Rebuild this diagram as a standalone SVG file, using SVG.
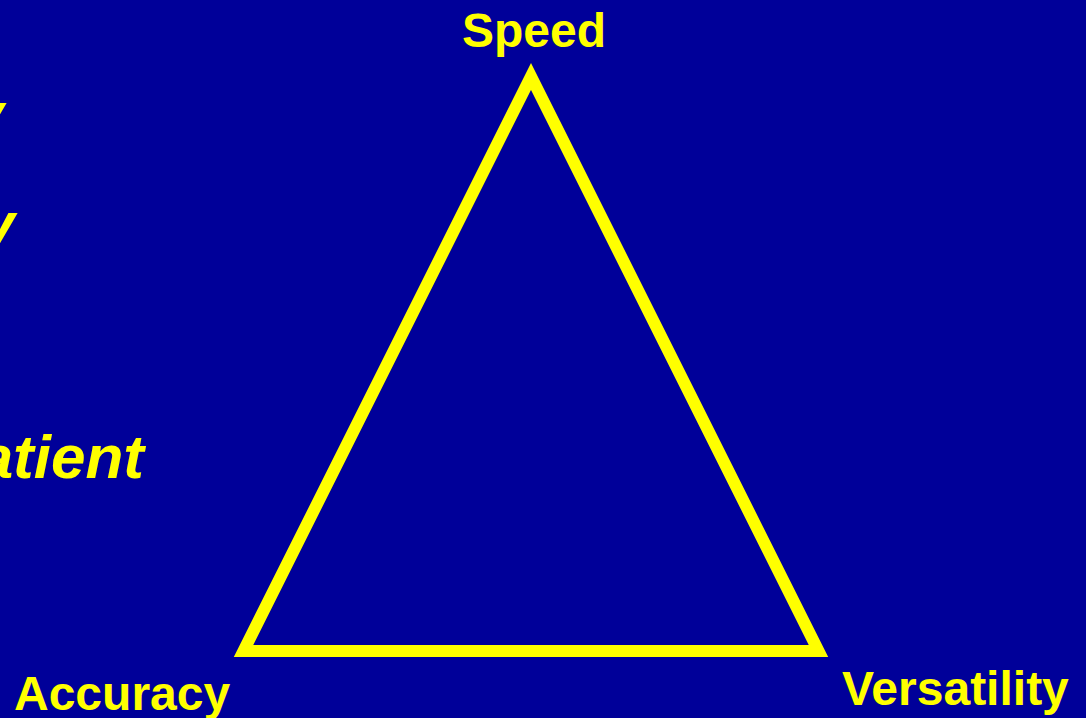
<svg xmlns="http://www.w3.org/2000/svg" width="1086" height="718" viewBox="0 0 1086 718">
<style>
.lbl{font-family:"Liberation Sans",Arial,sans-serif;font-weight:bold;font-size:48px;fill:#FFFF00}
.side{font-family:"Liberation Sans",Arial,sans-serif;font-weight:bold;font-style:italic;font-size:62px;fill:#FFFF00}
</style>
<rect x="0" y="0" width="1086" height="718" fill="#000099"/>
<g id="side-text">
<text class="side" x="4" y="135" text-anchor="end">y</text>
<text class="side" x="15" y="245" text-anchor="end">y</text>
<text class="side" x="144" y="478" text-anchor="end">atient</text>
</g>
<g id="connectors">
<polygon points="531,76.5 818.5,651 243.5,651" fill="none" stroke="#FFFF00" stroke-width="12" stroke-linejoin="miter" stroke-miterlimit="10"/>
</g>
<g id="node-speed"><text class="lbl" x="534" y="47" text-anchor="middle">Speed</text></g>
<g id="node-accuracy"><text class="lbl" x="14" y="710">Accuracy</text></g>
<g id="node-versatility"><text class="lbl" x="842" y="705">Versatility</text></g>
</svg>
